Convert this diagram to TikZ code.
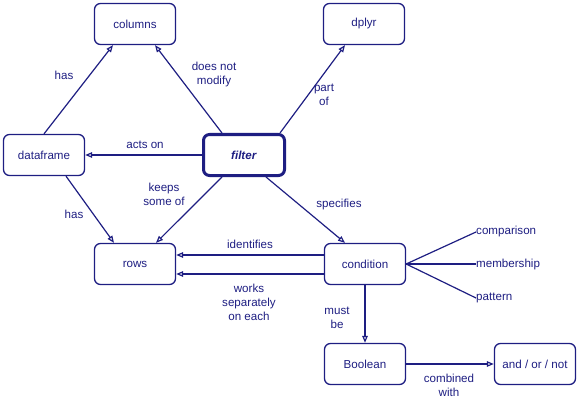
\documentclass[tikz,border=0pt]{standalone}
\usepackage{fontspec}
\setmainfont{Liberation Sans}
\usetikzlibrary{arrows.meta,calc}
\definecolor{ink}{RGB}{30,30,130}
\tikzset{
  box/.style={draw=ink, text=ink, line width=1.3pt, rounded corners=6pt, minimum width=81pt, minimum height=41pt, inner sep=0pt, font=\fontsize{11.6}{14}\selectfont},
  mainbox/.style={box, line width=3pt},
  lbl/.style={text=ink, align=center, inner sep=0pt, font=\fontsize{11.6}{14}\selectfont},
  leaf/.style={text=ink, anchor=west, inner sep=0pt, font=\fontsize{11.6}{14}\selectfont},
  arr/.style={draw=ink, line width=1.2pt, -{Triangle[open, length=7pt, width=5.5pt]}},
  link/.style={draw=ink, line width=1.2pt},
}
\begin{document}
\begin{tikzpicture}[x=1pt, y=-1pt]
\useasboundingbox (0,0) rectangle (579,404);
\node[box] (columns) at (135,24) {columns};
\node[box] (dplyr) at (364,24) {dplyr};
\node[box] (dataframe) at (44,155) {dataframe};
\node[mainbox] (filter) at (244,155) {\textbf{\textit{filter}}};
\node[box] (rows) at (135,264) {rows};
\node[box] (condition) at (365,264) {condition};
\node[box] (boolean) at (365,364) {Boolean};
\node[box] (andor) at (535,364) {and / or / not};
\node[leaf] (comparison) at (476,232) {comparison};
\node[leaf] (membership) at (476,264) {membership};
\node[leaf] (pattern) at (476,298) {pattern};

\draw[arr] (dataframe.north) -- ($(columns.south)+(-22,0)$);
\draw[arr] ($(filter.north)+(-22,0)$) -- ($(columns.south)+(20,0)$);
\draw[arr] (filter.west) -- (dataframe.east);
\draw[arr] ($(filter.north)+(36,0)$) -- ($(dplyr.south)+(-19,0)$);
\draw[arr] ($(dataframe.south)+(22,0)$) -- ($(rows.north)+(-21,0)$);
\draw[arr] ($(filter.south)+(-22,0)$) -- ($(rows.north)+(21,0)$);
\draw[arr] ($(filter.south)+(22,0)$) -- ($(condition.north)+(-20,0)$);
\draw[arr] ($(condition.west)+(0,-9)$) -- ($(rows.east)+(0,-9)$);
\draw[arr] ($(condition.west)+(0,10)$) -- ($(rows.east)+(0,10)$);
\draw[arr] (condition.south) -- (boolean.north);
\draw[arr] (boolean.east) -- (andor.west);
\draw[link] (condition.east) -- (comparison.west);
\draw[link] (condition.east) -- (membership.west);
\draw[link] (condition.east) -- (pattern.west);

\node[lbl] (l1) at (64,75) {has};
\node[lbl] (l2) at (214,75) {does not\\modify};
\node[lbl] (l3) at (145,145) {acts on};
\node[lbl] (l4) at (324,95) {part\\of};
\node[lbl] (l5) at (164,194) {keeps\\some of};
\node[lbl] (l6) at (74,214) {has};
\node[lbl] (l7) at (339,205) {specifies};
\node[lbl] (l8) at (250,244) {identifies};
\node[lbl] (l9) at (249,302) {works\\separately\\on each};
\node[lbl] (l10) at (337,318) {must\\be};
\node[lbl] (l11) at (449,385) {combined\\with};
\end{tikzpicture}
\end{document}
